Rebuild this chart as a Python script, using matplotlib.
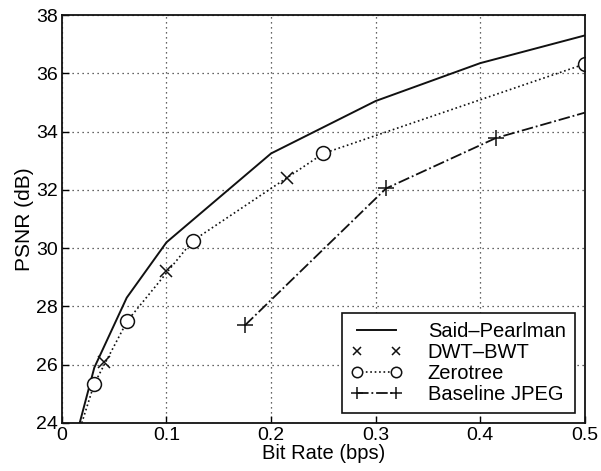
import matplotlib
matplotlib.use('Agg')
import matplotlib.pyplot as plt

# Said-Pearlman (solid curve)
sp_rate = [0.017, 0.031, 0.062, 0.1, 0.2, 0.3, 0.4, 0.5]
sp_psnr = [24.0, 25.9, 28.3, 30.2, 33.25, 35.05, 36.35, 37.3]

# DWT-BWT (markers only)
dwt_rate = [0.04, 0.1, 0.215]
dwt_psnr = [26.1, 29.2, 32.4]

# Zerotree (dotted, circles)
zt_rate = [0.019, 0.031, 0.0625, 0.125, 0.25, 0.5]
zt_psnr = [24.0, 25.35, 27.5, 30.25, 33.25, 36.32]

# Baseline JPEG (dash-dot, plus)
jp_rate = [0.175, 0.31, 0.415, 0.5]
jp_psnr = [27.35, 32.05, 33.78, 34.65]

plt.rcParams['font.family'] = ['Liberation Sans', 'DejaVu Sans']

fig = plt.figure(figsize=(6.01, 4.71), dpi=100)
ax = fig.add_axes([0.103, 0.102, 0.870, 0.866])

k = '#111111'
ax.plot(sp_rate, sp_psnr, '-', color=k, lw=1.4, label='Said\u2013Pearlman')
ax.plot(dwt_rate, dwt_psnr, 'x', color=k, ms=8, mew=1.1, linestyle='none', label='DWT\u2013BWT')
ax.plot(zt_rate, zt_psnr, ':', color=k, lw=1.2, marker='o', ms=10, mfc='white', mew=1.1,
        markevery=[1, 2, 3, 4, 5], label='Zerotree')
ax.plot(jp_rate, jp_psnr, '-.', color=k, lw=1.3, marker='+', ms=12, mew=1.1,
        markevery=[0, 1, 2], label='Baseline JPEG')

ax.set_xlim(0, 0.5)
ax.set_ylim(24, 38)
ax.set_xticks([0, 0.1, 0.2, 0.3, 0.4, 0.5])
ax.set_xticklabels(['0', '0.1', '0.2', '0.3', '0.4', '0.5'])
ax.set_yticks(range(24, 39, 2))
ax.tick_params(direction='in', length=5, width=1, labelsize=14)
ax.tick_params(axis='x', pad=3)
ax.tick_params(axis='y', pad=3)
ax.grid(True, linestyle=(0, (1, 3)), color='#333333', lw=0.9)
for s in ax.spines.values():
    s.set_linewidth(1.3)
    s.set_color(k)

ax.set_xlabel('Bit Rate (bps)', fontsize=14.5, labelpad=0)
ax.set_ylabel('PSNR (dB)', fontsize=15, labelpad=1)

leg = ax.legend(loc='lower right', numpoints=2, fancybox=False, framealpha=1,
                edgecolor=k, fontsize=14.5, handlelength=2.5, borderpad=0.45,
                labelspacing=0.1, handletextpad=1.3, borderaxespad=0.5,
                markerscale=0.75)
leg.get_frame().set_linewidth(1.2)

fig.savefig('out.png', dpi=100)
